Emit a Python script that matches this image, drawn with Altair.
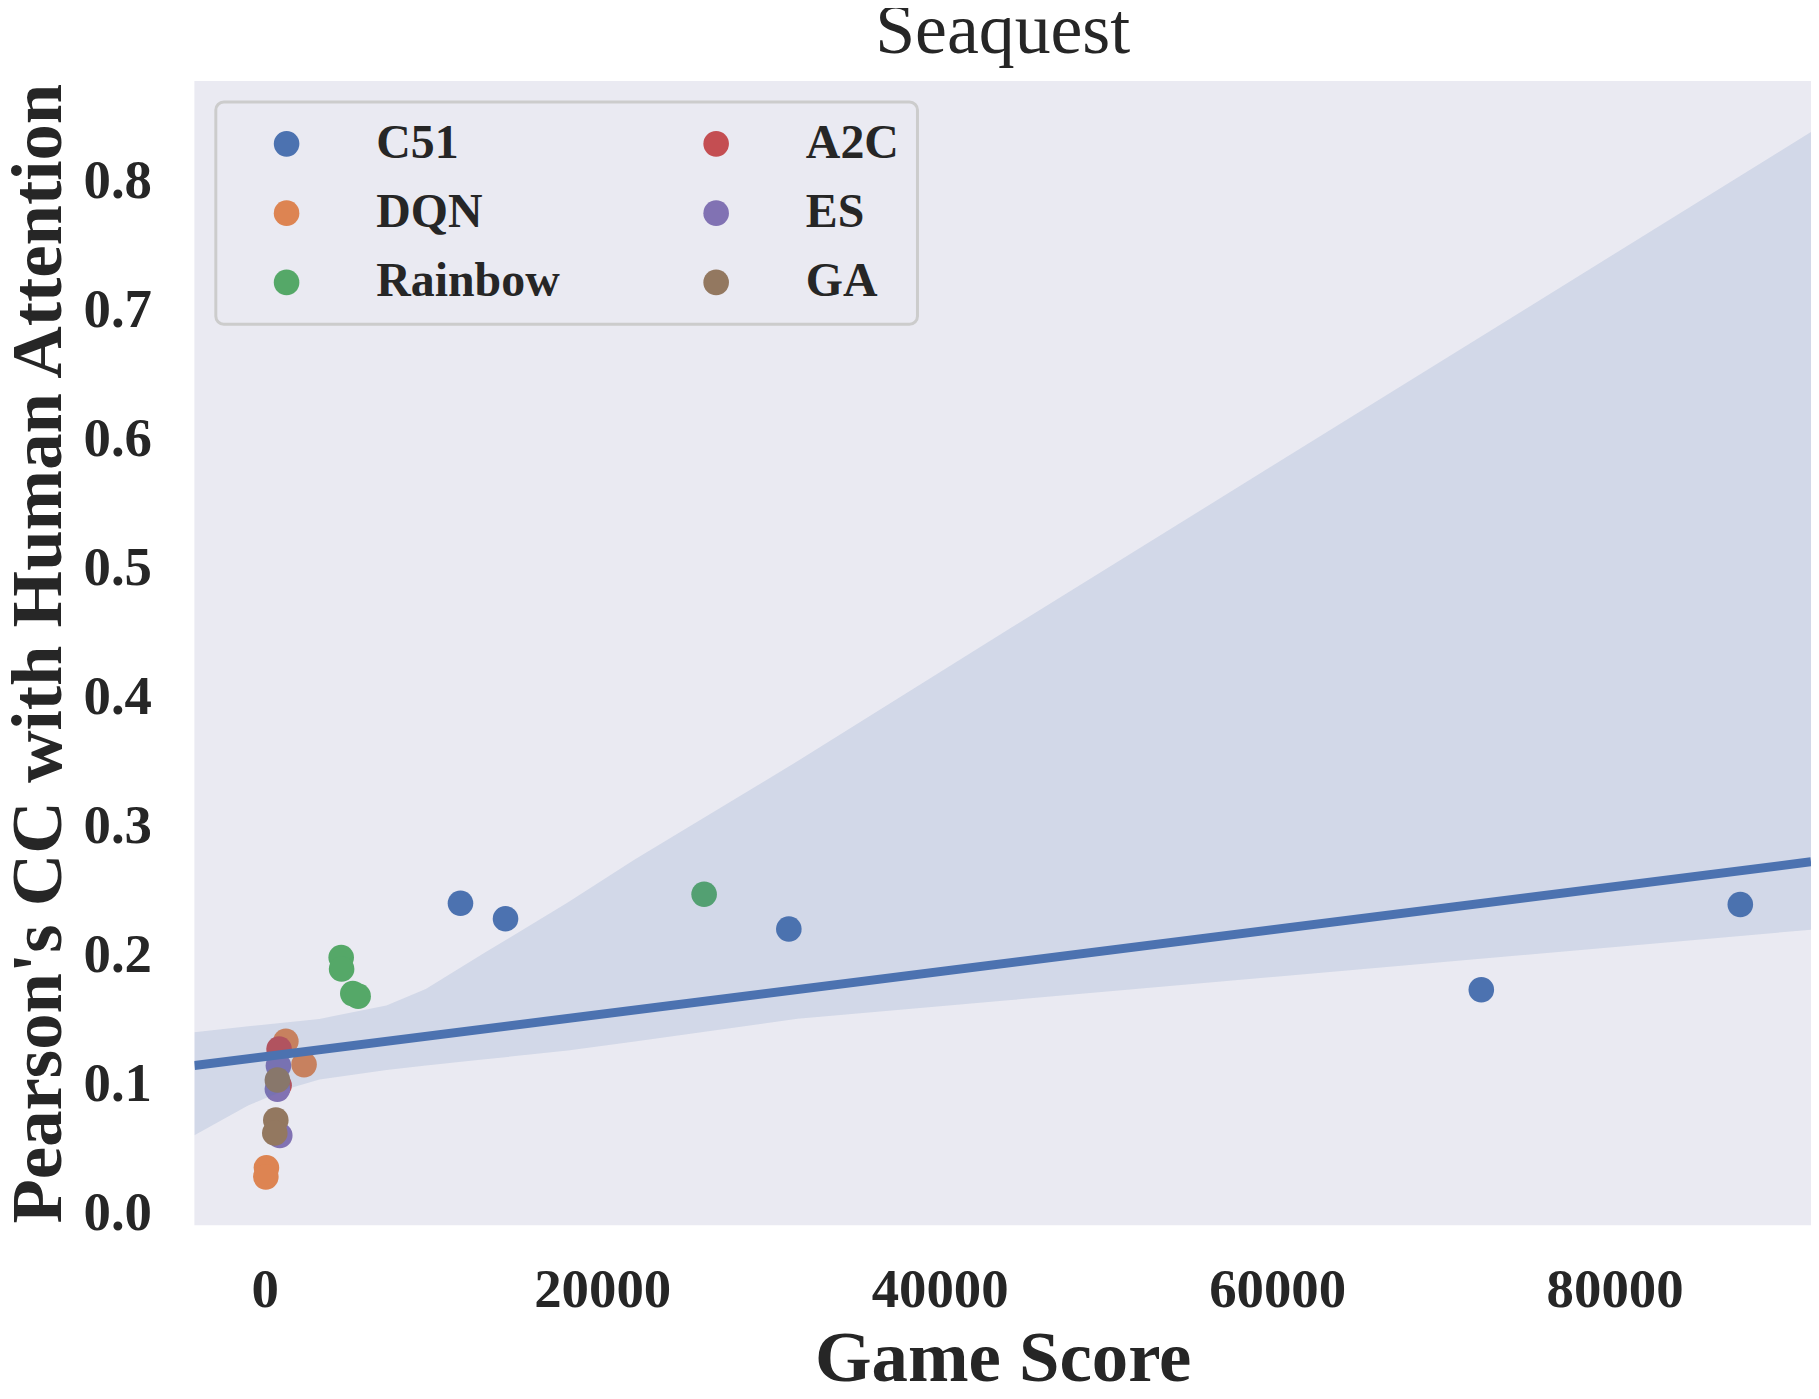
import altair as alt
import pandas as pd

# ---- data ----
c51_score = [11600, 14270, 31060, 72100, 87450]
c51_cc = [0.240, 0.228, 0.220, 0.173, 0.239]
dqn_score = [1250, 2330, 100, 65]
dqn_cc = [0.133, 0.115, 0.035, 0.028]
rainbow_score = [4530, 4555, 5220, 5535, 26040]
rainbow_cc = [0.198, 0.189, 0.170, 0.168, 0.247]
a2c_score = [850, 850]
a2c_cc = [0.127, 0.099]
es_score = [810, 750, 890]
es_cc = [0.114, 0.096, 0.060]
ga_score = [750, 655, 595]
ga_cc = [0.103, 0.072, 0.062]

# regression line (ends at the axis limits) and confidence band
line_score = [-4170, 91640]
line_cc = [0.1143, 0.2721]
band_score = [-4170, -963, 1376, 3243, 7213, 9546, 13054, 17957, 21927, 31567, 44231, 91640]
band_upper = [0.1401, 0.1446, 0.1478, 0.1504, 0.1607, 0.1735, 0.2018, 0.2405, 0.2739, 0.3500, 0.4534, 0.8375]
band_lower = [0.0602, 0.0834, 0.0963, 0.1035, 0.1107, 0.1143, 0.1191, 0.1259, 0.1328, 0.1505, 0.1650, 0.2195]

x_ticks = [0, 20000, 40000, 60000, 80000]
y_ticks = [0.0, 0.1, 0.2, 0.3, 0.4, 0.5, 0.6, 0.7, 0.8]

legend_order = ["C51", "DQN", "Rainbow", "A2C", "ES", "GA"]
legend_colors = ["#4C72B0", "#DD8452", "#55A868", "#C44E52", "#8172B3", "#937860"]

# ---- tables ----
groups = [("C51", c51_score, c51_cc), ("DQN", dqn_score, dqn_cc),
          ("Rainbow", rainbow_score, rainbow_cc), ("A2C", a2c_score, a2c_cc),
          ("ES", es_score, es_cc), ("GA", ga_score, ga_cc)]
rows = []
for name, xs, ys in groups:
    for xv, yv in zip(xs, ys):
        rows.append({"algo": name, "score": xv, "cc": yv})
points_df = pd.DataFrame(rows)
line_df = pd.DataFrame({"score": line_score, "cc": line_cc})
band_df = pd.DataFrame({"score": band_score, "lo": band_lower, "hi": band_upper})

FONT = "Liberation Serif"
xdom = [-4170, 91640]
ydom = [-0.0095, 0.877]

xscale = alt.Scale(domain=xdom, nice=False, zero=False)
yscale = alt.Scale(domain=ydom, nice=False, zero=False)

xaxis = alt.Axis(values=x_ticks, format="d", title="Game Score",
                 labelPadding=39, titleY=156, titleBaseline="alphabetic")
yaxis = alt.Axis(values=y_ticks, format=".1f", title="Pearson's CC with Human Attention",
                 labelPadding=43, titleX=-134, titleY=574, titleAngle=270,
                 titleBaseline="alphabetic", titleAlign="center")

points = alt.Chart(points_df).mark_circle(size=660, opacity=1).encode(
    x=alt.X("score:Q", scale=xscale, axis=xaxis),
    y=alt.Y("cc:Q", scale=yscale, axis=yaxis),
    color=alt.Color("algo:N",
                    scale=alt.Scale(domain=legend_order, range=legend_colors),
                    legend=alt.Legend(title=None, orient="none", legendX=21.5, legendY=21,
                                      columns=2, symbolType="circle", symbolSize=660,
                                      symbolOpacity=1, symbolStrokeWidth=0,
                                      symbolOffset=29, labelOffset=66,
                                      columnPadding=103, rowPadding=21.5,
                                      padding=18, labelLimit=500,
                                      fillColor="#EAEAF2", strokeColor="#CCCCCC",
                                      cornerRadius=8)),
)

band = alt.Chart(band_df).mark_area(color="#4C72B0", opacity=0.15, clip=True).encode(
    x=alt.X("score:Q", scale=xscale),
    y=alt.Y("lo:Q", scale=yscale),
    y2="hi:Q",
)

line = alt.Chart(line_df).mark_line(color="#4C72B0", strokeWidth=9, clip=True).encode(
    x=alt.X("score:Q", scale=xscale),
    y=alt.Y("cc:Q", scale=yscale),
)

chart = alt.layer(points, band, line).properties(
    width=1622, height=1148,
    title=alt.TitleParams("Seaquest", font=FONT, fontSize=72, fontWeight="normal",
                          color="#262626", offset=13,
                          anchor="middle", frame="group"),
    autosize=alt.AutoSizeParams(type="none"),
    padding={"left": 187, "top": 71, "right": 0, "bottom": 172},
).configure_view(
    fill="#EAEAF2", stroke=None
).configure_axis(
    grid=False, ticks=False, domain=False,
    labelFont=FONT, labelFontSize=55, labelFontWeight="bold", labelColor="#262626",
    titleFont=FONT, titleFontSize=73, titleFontWeight="bold", titleColor="#262626",
).configure_legend(
    labelFont=FONT, labelFontSize=48, labelFontWeight="bold", labelColor="#262626",
    strokeWidth=3,
)

chart.save("out.html", embed_options={"renderer": "svg", "actions": False})
